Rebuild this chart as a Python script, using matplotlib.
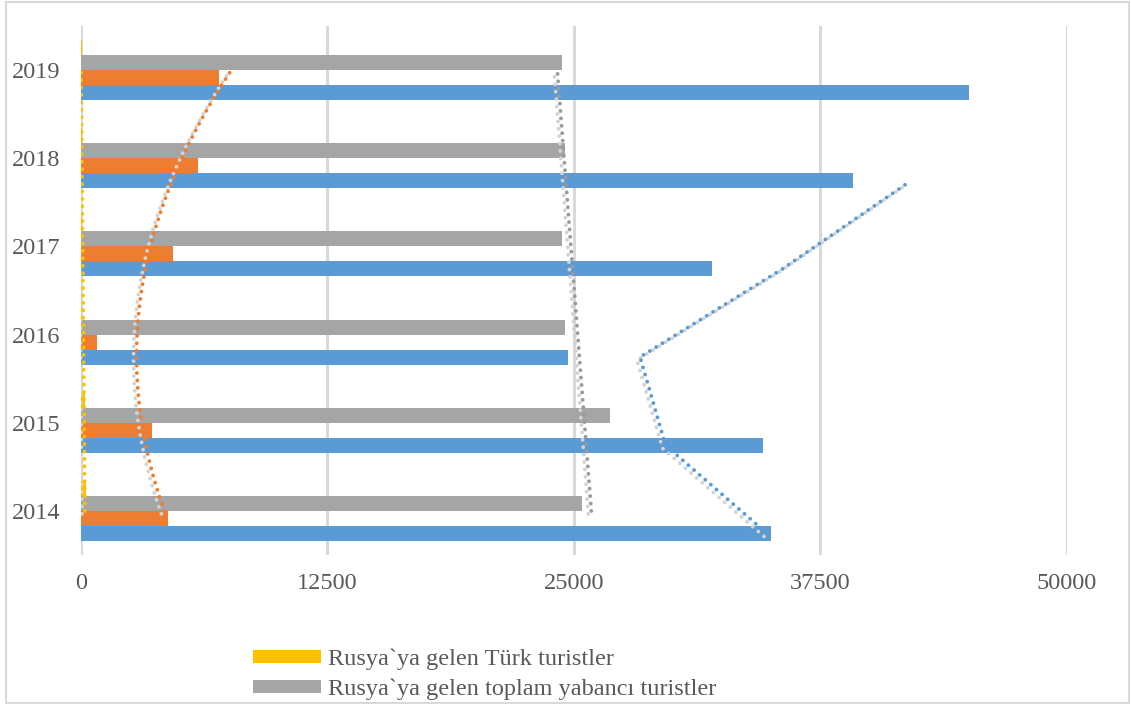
import numpy as np
import matplotlib
matplotlib.use("Agg")
import matplotlib.pyplot as plt
import matplotlib.transforms as mtransforms
from matplotlib.patches import Rectangle

plt.rcParams['font.family'] = ['Liberation Serif', 'DejaVu Serif']

years = ["2014", "2015", "2016", "2017", "2018", "2019"]
turk_to_russia = [230, 180, 60, 70, 50, 40]
total_to_russia = [25400, 26830, 24540, 24390, 24540, 24390]
russian_to_turkey = [4410, 3600, 810, 4670, 5930, 7000]
total_to_turkey = [34990, 34580, 24700, 32000, 39150, 45030]
x_ticks = [0, 12500, 25000, 37500, 50000]

c_blue = "#5B9BD5"
c_orange = "#ED7D31"
c_gray = "#A5A5A5"
c_yellow = "#FFC000"
txt = "#595959"

fig = plt.figure(figsize=(11.31, 7.06), dpi=100)
ax = fig.add_axes([0.0716, 0.2139, 0.8718, 0.7493])

pos = np.arange(len(years))
h = 0.17
ax.barh(pos - 1.5 * h, total_to_turkey, height=h, color=c_blue, zorder=2)
ax.barh(pos - 0.5 * h, russian_to_turkey, height=h, color=c_orange, zorder=2)
ax.barh(pos + 0.5 * h, total_to_russia, height=h, color=c_gray, zorder=2,
        label="Rusya`ya gelen toplam yabancı turistler")
ax.barh(pos + 1.5 * h, turk_to_russia, height=h, color=c_yellow, zorder=2,
        label="Rusya`ya gelen Türk turistler")

# trendlines (Excel style): polynomial, linear, moving average
shadow = mtransforms.offset_copy(ax.transData, fig=fig, x=-3, y=-3, units='dots')
dot = dict(lw=2.8, ls=(0, (0.01, 1.9)), dash_capstyle='round')

def trend(xv, yv, color):
    ax.plot(xv, yv, color="#D3D3D3", transform=shadow, zorder=3, **dot)
    ax.plot(xv, yv, color=color, zorder=4, **dot)

t = np.linspace(0, 5, 60)
trend(np.polyval(np.polyfit(pos, russian_to_turkey, 2), t), t, c_orange)
trend(np.polyval(np.polyfit(pos, total_to_russia, 1), t), t, "#9A9A9A")
trend(np.polyval(np.polyfit(pos, turk_to_russia, 1), t), t, c_yellow)
blue = np.array(total_to_turkey, dtype=float)
ma = (blue[:-1] + blue[1:]) / 2
trend(ma, pos[:-1] - 1.5 * h, c_blue)

ax.set_xlim(0, 50000)
ax.set_ylim(-0.5, 5.5)
ax.set_xticks(x_ticks)
ax.set_xticklabels([str(v) for v in x_ticks])
ax.set_yticks(pos)
ax.set_yticklabels(years)
ax.tick_params(axis='both', length=0, labelsize=17.5, colors=txt)
ax.tick_params(axis='y', pad=15)
ax.tick_params(axis='x', pad=13)
ax.grid(axis='x', color="#D9D9D9", lw=2.2, zorder=0)
ax.set_axisbelow(True)
for s in ax.spines.values():
    s.set_visible(False)

handles, labels = ax.get_legend_handles_labels()
leg = fig.legend(handles[::-1], labels[::-1], loc='upper left',
                 bbox_to_anchor=(0.2237, 0.081), frameon=False,
                 fontsize=17.5, handlelength=2.8, handleheight=0.45,
                 handletextpad=0.3, labelspacing=0.33, borderpad=0,
                 borderaxespad=0)
for t_ in leg.get_texts():
    t_.set_color(txt)

fig.patches.append(Rectangle((0.005, 0.004), 0.993, 0.993, transform=fig.transFigure,
                             fill=False, edgecolor="#D9D9D9", lw=1.5))

fig.savefig("out.png", dpi=100)
